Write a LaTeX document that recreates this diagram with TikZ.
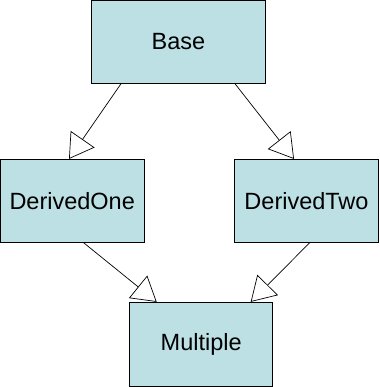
\documentclass[tikz,border=0pt]{standalone}
\usepackage{fontspec}
\setmainfont{Liberation Sans}
\usetikzlibrary{arrows.meta}

\definecolor{boxblue}{RGB}{189,224,228}

\begin{document}
\begin{tikzpicture}[x=1pt, y=-1pt,
        classbox/.style={draw=black, line width=0.8pt, fill=boxblue, inner sep=0pt,
            font=\fontsize{23.5}{28}\selectfont},
        inherit/.style={line width=0.7pt, -{Triangle[open, length=24pt, width=29pt, line width=0.7pt]}}]
            % Frame
            \useasboundingbox (0,0) rectangle (379,387);

            % Classes
            \node[classbox, minimum width=173.6pt, minimum height=83.3pt] (Base) at (178.5, 41.7) {Base};
            \node[classbox, minimum width=143.6pt, minimum height=82.7pt] (DerivedOne) at (72.2, 200.7) {DerivedOne};
            \node[classbox, minimum width=144.4pt, minimum height=82.7pt] (DerivedTwo) at (306.5, 200.7) {DerivedTwo};
            \node[classbox, minimum width=143pt, minimum height=84.4pt] (Multiple) at (201.2, 344.5) {Multiple};

            % Inheritance arrows
            \draw[inherit] ([xshift=-57.5pt]Base.south) -- ([xshift=-3.2pt]DerivedOne.north);
            \draw[inherit] ([xshift=56.5pt]Base.south) -- ([xshift=-12.5pt]DerivedTwo.north);
            \draw[inherit] ([xshift=11.1pt]DerivedOne.south) -- ([xshift=-44.5pt]Multiple.north);
            \draw[inherit] ([xshift=3.5pt]DerivedTwo.south) -- ([xshift=49.5pt]Multiple.north);
        \end{tikzpicture}
\end{document}
